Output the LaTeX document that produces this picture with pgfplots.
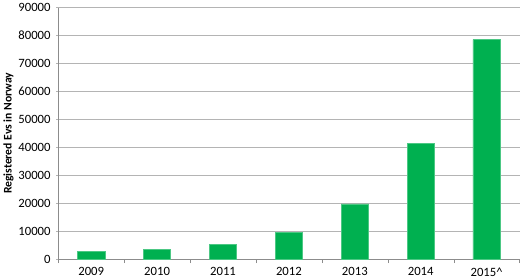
\documentclass[border=0pt]{standalone}
\usepackage{fontspec}
\setmainfont{Carlito}
\usepackage{pgfplots}
\pgfplotsset{compat=1.18}
\definecolor{bargreen}{RGB}{0,176,80}
\definecolor{gridgray}{RGB}{180,180,180}
\definecolor{axgray}{RGB}{140,140,140}
\begin{document}
\begin{tikzpicture}[x=1pt,y=1pt]
\begin{axis}[
  scale only axis,
  width=455pt, height=248pt,
  xmin=-0.5, xmax=6.5,
  ymin=0, ymax=90000,
  ytick={0,10000,...,90000},
  xtick={0,...,6},
  xticklabels={2009,2010,2011,2012,2013,2014,2015\^{}},
  minor xtick={-0.5,0.5,...,6.5},
  major x tick style={draw=none},
  minor x tick style={axgray},
  y tick style={gridgray},
  tick align=outside,
  major tick length=4pt,
  minor tick length=4pt,
  axis lines=left,
  axis line style={-,axgray},
  ymajorgrids,
  grid style={gridgray, line width=0.8pt},
  /pgf/number format/assume math mode=true,
  scaled y ticks=false,
  yticklabel style={xshift=-2pt, /pgf/number format/.cd, fixed, 1000 sep={}},
  xticklabel style={yshift=-1pt},
  ticklabel style={font=\fontsize{12.5}{14}\selectfont},
  ylabel={\textbf{Registered Evs in Norway}},
  ylabel style={font=\fontsize{11.5}{13}\selectfont, yshift=-2pt},
  ybar, bar width=27pt,
  clip=false,
  xtick pos=bottom,
]
\addplot[fill=bargreen, draw=bargreen!70!white, line width=0.6pt] coordinates {
  (0,2600) (1,3300) (2,5300) (3,9400) (4,19700) (5,41300) (6,78500)
};
\end{axis}
\end{tikzpicture}
\end{document}
